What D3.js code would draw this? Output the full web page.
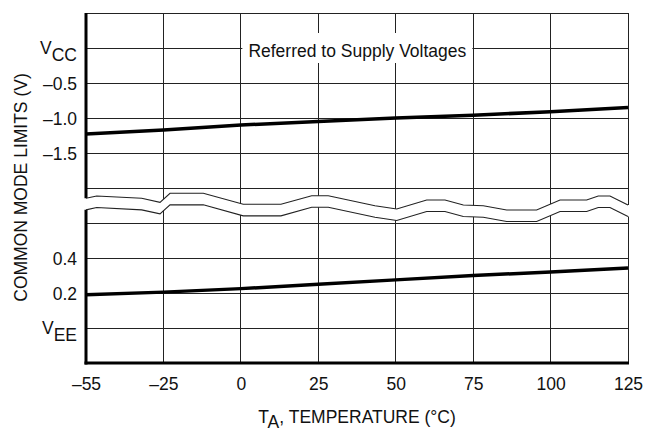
<!DOCTYPE html>
<html>
<head>
<meta charset="utf-8">
<script src="https://cdn.jsdelivr.net/npm/d3@7"></script>
<style>
  html, body { margin: 0; padding: 0; background: #fff; }
  svg { display: block; }
  text { font-family: "Liberation Sans", Arial, Helvetica, sans-serif; fill: #111; }
</style>
</head>
<body>
<svg id="chart" width="660" height="431"></svg>
<script>
// ---- data ----
const temps = ["-55", "-25", "0", "25", "50", "75", "100", "125"];
const tempLabels = ["\u201355", "\u201325", "0", "25", "50", "75", "100", "125"];
// upper limit, volts referred to VCC
const vccLimit = [-1.23, -1.17, -1.10, -1.05, -1.00, -0.96, -0.91, -0.85];
// lower limit, volts referred to VEE
const veeLimit = [0.19, 0.205, 0.225, 0.25, 0.275, 0.30, 0.32, 0.343];
const upperTicks = [0, -0.5, -1.0, -1.5];
const upperTickLabels = ["V|CC", "\u20130.5", "\u20131.0", "\u20131.5"];
const upperGrid = [0.5, 0, -0.5, -1.0, -1.5, -2.0];
const lowerTicks = [0.4, 0.2, 0];
const lowerTickLabels = ["0.4", "0.2", "V|EE"];
const lowerGrid = [0.6, 0.4, 0.2, 0, -0.2];
// axis-break wave: [position along temperature axis (index), fraction of break band]
const breakWave = [
  [0, .294], [.138, .229], [.719, .294], [.956, .409], [1.085, .151], [1.515, .151],
  [2.031, .466], [2.518, .466], [2.915, .22], [3.129, .22], [3.732, .506], [4.013, .6],
  [4.40, .343], [4.636, .343], [4.873, .486], [5.131, .506], [5.433, .629], [5.82, .629],
  [6.122, .343], [6.466, .343], [6.616, .229], [6.767, .229], [7.0, .486]
];
const noteText = "Referred to Supply Voltages";

// ---- layout ----
const svg = d3.select("#chart");
const L = 86, R = 628, T = 13, B = 363;
const rowH = (B - T) / 10;
const x = d3.scalePoint().domain(temps).range([L, R]);
const xi = d3.scaleLinear().domain([0, temps.length - 1]).range([L, R]);
const yU = d3.scaleLinear().domain([0.5, -2.0]).range([T, T + 5 * rowH]);
const yL = d3.scaleLinear().domain([0.6, -0.2]).range([T + 6 * rowH, B]);
const bandTop = T + 5 * rowH;
const waveGap = 0.33 * rowH;

const grid = svg.append("g").attr("stroke", "#222").attr("stroke-width", 1).attr("shape-rendering", "crispEdges");
temps.forEach(t => grid.append("line").attr("x1", x(t)).attr("x2", x(t)).attr("y1", T).attr("y2", B));
upperGrid.forEach(v => grid.append("line").attr("x1", L).attr("x2", R).attr("y1", yU(v)).attr("y2", yU(v)));
lowerGrid.forEach(v => grid.append("line").attr("x1", L).attr("x2", R).attr("y1", yL(v)).attr("y2", yL(v)));

// frame: thick left & bottom
svg.append("line").attr("x1", L).attr("x2", L).attr("y1", T).attr("y2", B + 1.5)
  .attr("stroke", "#000").attr("stroke-width", 3);
svg.append("line").attr("x1", L - 1.5).attr("x2", R + 1).attr("y1", B).attr("y2", B)
  .attr("stroke", "#000").attr("stroke-width", 3);

// data lines
const lineU = d3.line().x((d, i) => x(temps[i])).y(d => yU(d));
const lineL = d3.line().x((d, i) => x(temps[i])).y(d => yL(d));
svg.append("path").attr("d", lineU(vccLimit)).attr("fill", "none").attr("stroke", "#000").attr("stroke-width", 3.5);
svg.append("path").attr("d", lineL(veeLimit)).attr("fill", "none").attr("stroke", "#000").attr("stroke-width", 3.5);

// axis break
const upperPts = breakWave.map(d => [xi(d[0]), bandTop + d[1] * rowH]);
const lowerPts = breakWave.map(d => [xi(d[0]), bandTop + d[1] * rowH + waveGap]);
const ext = pts => [[pts[0][0] - 4, pts[0][1]], ...pts, [pts[pts.length - 1][0] + 4, pts[pts.length - 1][1]]];
const poly = ext(upperPts).concat(ext(lowerPts).reverse());
svg.append("polygon").attr("points", poly.map(p => p.join(",")).join(" ")).attr("fill", "#fff");
const wl = d3.line();
svg.append("path").attr("d", wl(upperPts)).attr("fill", "none").attr("stroke", "#222").attr("stroke-width", 1.1);
svg.append("path").attr("d", wl(lowerPts)).attr("fill", "none").attr("stroke", "#222").attr("stroke-width", 1.1);

// note with white background
svg.append("rect").attr("x", x("0") + 1.5).attr("y", yU(0) - 15).attr("width", 230).attr("height", 30).attr("fill", "#fff");
svg.append("text").attr("x", (x("0") + 1.5 + 115)).attr("y", yU(0) + 9).attr("text-anchor", "middle")
  .attr("font-size", 17.5).text(noteText);

// x axis labels
const xAxis = d3.axisBottom(x).tickSize(0).tickPadding(0).tickFormat((d, i) => tempLabels[i]);
const gx = svg.append("g").attr("transform", `translate(0,${B})`).call(xAxis);
gx.select(".domain").remove();
gx.selectAll("text").attr("font-size", 17.5).attr("dy", null).attr("y", 27)
  .attr("font-family", "'Liberation Sans', Arial, sans-serif").attr("fill", "#111");

// y axis labels
function yLabels(scale, ticks, labels) {
  const ax = d3.axisLeft(scale).tickValues(ticks).tickSize(0).tickPadding(0).tickFormat(() => "");
  const g = svg.append("g").attr("transform", `translate(77,0)`).call(ax);
  g.select(".domain").remove();
  g.selectAll(".tick text").each(function (d, i) {
    const parts = labels[i].split("|");
    const t = d3.select(this).attr("font-size", 17.5).attr("x", 0).attr("dy", null)
      .attr("y", parts.length > 1 ? 5.5 : 6.3)
      .attr("font-family", "'Liberation Sans', Arial, sans-serif").attr("fill", "#111");
    t.text(null);
    t.append("tspan").text(parts[0]);
    if (parts.length > 1) t.append("tspan").text(parts[1]).attr("dy", 7);
  });
}
yLabels(yU, upperTicks, upperTickLabels);
yLabels(yL, lowerTicks, lowerTickLabels);

// axis titles
const xt = svg.append("text").attr("x", (L + R) / 2).attr("y", 423).attr("text-anchor", "middle").attr("font-size", 17.5);
xt.append("tspan").text("T");
xt.append("tspan").text("A").attr("dy", 5);
xt.append("tspan").text(", TEMPERATURE (\u00B0C)").attr("dy", -5);

svg.append("text").attr("transform", `translate(27,${(75 + 300) / 2}) rotate(-90)`).attr("text-anchor", "middle")
  .attr("font-size", 17.5).text("COMMON MODE LIMITS (V)");
</script>
</body>
</html>
